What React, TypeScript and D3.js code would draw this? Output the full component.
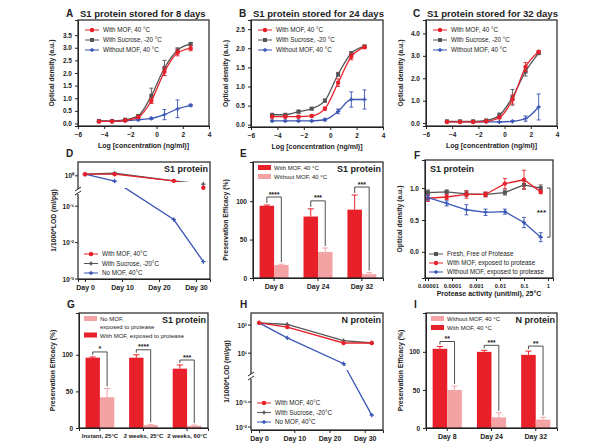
import { useEffect, useRef } from 'react';
import * as d3 from 'd3';

const RED = '#e8202a';
const GRAY = '#555555';
const BLUE = '#3b56b5';
const PINK = '#f4a3a5';
const INK = '#222';
const FONT = '"Liberation Sans", Arial, sans-serif';

// A-C: dose response curves
const concLog = [-4.4, -3.4, -2.4, -1.4, -0.4, 0.6, 1.6, 2.6];
const aMof = [0.08, 0.08, 0.12, 0.25, 0.9, 2.05, 2.8, 2.98];
const aMofErr = [0.03, 0.03, 0.03, 0.05, 0.1, 0.15, 0.12, 0.1];
const aSuc = [0.1, 0.1, 0.15, 0.3, 1.1, 2.2, 2.9, 3.15];
const aSucErr = [0.03, 0.03, 0.04, 0.05, 0.3, 0.3, 0.1, 0.06];
const aNo = [0.08, 0.08, 0.1, 0.15, 0.2, 0.35, 0.58, 0.72];
const aNoErr = [0.02, 0.02, 0.02, 0.04, 0.04, 0.2, 0.35, 0.04];
const bMof = [0.21, 0.21, 0.21, 0.23, 0.42, 1.1, 1.78, 2.03];
const bMofErr = [0.03, 0.03, 0.03, 0.03, 0.04, 0.1, 0.08, 0.04];
const bSuc = [0.26, 0.26, 0.34, 0.42, 0.63, 1.32, 1.87, 2.05];
const bSucErr = [0.02, 0.02, 0.04, 0.03, 0.04, 0.05, 0.04, 0.03];
const bNo = [0.1, 0.1, 0.1, 0.1, 0.13, 0.35, 0.66, 0.66];
const bNoErr = [0.02, 0.02, 0.02, 0.02, 0.03, 0.06, 0.2, 0.25];
const cMof = [0.05, 0.05, 0.05, 0.08, 0.25, 1.05, 2.5, 3.18];
const cMofErr = [0.02, 0.02, 0.02, 0.03, 0.05, 0.2, 0.2, 0.05];
const cSuc = [0.08, 0.08, 0.08, 0.12, 0.35, 1.15, 2.3, 3.12];
const cSucErr = [0.02, 0.02, 0.02, 0.03, 0.1, 0.35, 0.2, 0.05];
const cNo = [0.05, 0.05, 0.05, 0.05, 0.05, 0.08, 0.2, 0.72];
const cNoErr = [0.01, 0.01, 0.01, 0.01, 0.01, 0.03, 0.12, 0.58];

// D, H: detection limits over storage
const storeDays = [0, 8, 24, 32];
const dMof = [1.05, 1.05, 0.86, 0.7];
const dSuc = [1.05, 1.08, 0.86, 0.78];
const dNo = [1.05, 0.85, 0.043, 0.003];
const hMof = [120, 85, 23, 23];
const hSuc = [120, 105, 28, 23];
const hNo = [120, 35, 4.2, 0.03];
const dayTicks = [0, 10, 20, 30];

// E, G, I: preservation efficacy bars
const eCats = ['Day 8', 'Day 24', 'Day 32'];
const eMof = [94, 80, 89];
const eMofErr = [1, 10, 19];
const eNo = [17, 34, 5];
const eNoErr = [1, 5, 2];
const eStars = ['****', '***', '***'];
const gCats = ['Instant, 25°C', '2 weeks, 25°C', '2 weeks, 60°C'];
const gMof = [96, 96, 81];
const gMofErr = [1, 4, 5];
const gNo = [42, 4, 3];
const gNoErr = [12, 1, 1];
const gStars = ['*', '****', '***'];
const iCats = ['Day 8', 'Day 24', 'Day 32'];
const iMof = [104, 100, 96];
const iMofErr = [3, 2, 5];
const iNo = [50, 14, 11];
const iNoErr = [5, 6, 3];
const iStars = ['**', '***', '**'];

// F: protease challenge
const protease = [0.00001, 0.00006, 0.0004, 0.0025, 0.016, 0.1, 0.5];
const fFresh = [0.93, 0.94, 0.91, 0.9, 0.93, 1.05, 1.0];
const fFreshErr = [0.04, 0.03, 0.04, 0.03, 0.04, 0.06, 0.05];
const fMof = [0.84, 0.86, 0.9, 0.9, 1.07, 1.13, 0.94];
const fMofErr = [0.05, 0.04, 0.06, 0.04, 0.08, 0.15, 0.03];
const fNo = [0.85, 0.76, 0.66, 0.62, 0.63, 0.46, 0.23];
const fNoErr = [0.04, 0.04, 0.08, 0.05, 0.04, 0.08, 0.07];

type Sel = d3.Selection<SVGGElement, unknown, null, undefined>;
type Series = { name: string; color: string; shape: string; vals: number[]; errs?: number[] };

function txt(g: Sel, x: number, y: number, s: string, size = 7, anchor = 'start', weight = 'bold', rotate = false) {
  const t = g.append('text').attr('x', x).attr('y', y).attr('font-size', size).attr('font-weight', weight)
    .attr('font-family', FONT).attr('fill', INK).attr('text-anchor', anchor).text(s);
  if (rotate) t.attr('transform', `rotate(-90,${x},${y})`);
  return t;
}

function styleAxis(a: Sel) {
  a.selectAll('text').attr('font-size', 6.5).attr('font-weight', 'bold').attr('font-family', FONT).attr('fill', INK);
  a.selectAll('line,path').attr('stroke', INK).attr('stroke-width', 1);
}

function frame(g: Sel, x0: number, x1: number, y0: number, y1: number) {
  g.append('rect').attr('x', x0).attr('y', y0).attr('width', x1 - x0).attr('height', y1 - y0)
    .attr('fill', 'none').attr('stroke', INK).attr('stroke-width', 1.2);
}

function marker(g: Sel, shape: string, x: number, y: number, color: string) {
  if (shape === 'square') g.append('rect').attr('x', x - 2).attr('y', y - 2).attr('width', 4).attr('height', 4).attr('fill', color);
  else if (shape === 'circle') g.append('circle').attr('cx', x).attr('cy', y).attr('r', 2.2).attr('fill', color);
  else g.append('path').attr('d', d3.symbol(d3.symbolCross, 10)()).attr('transform', `translate(${x},${y})`).attr('fill', color);
}

function errBar(g: Sel, x: number, yA: number, yB: number, color: string, cap = 2) {
  g.append('line').attr('x1', x).attr('x2', x).attr('y1', yA).attr('y2', yB).attr('stroke', color).attr('stroke-width', 0.9);
  [yA, yB].forEach(yy => g.append('line').attr('x1', x - cap).attr('x2', x + cap).attr('y1', yy).attr('y2', yy)
    .attr('stroke', color).attr('stroke-width', 0.9));
}

function lineLegend(g: Sel, x: number, y: number, series: Series[], dy = 10) {
  series.forEach((s, i) => {
    const yy = y + i * dy;
    g.append('line').attr('x1', x).attr('x2', x + 14).attr('y1', yy).attr('y2', yy).attr('stroke', s.color).attr('stroke-width', 1);
    marker(g, s.shape, x + 7, yy, s.color);
    txt(g, x + 18, yy + 2.3, s.name, 6.3, 'start', 'normal');
  });
}

function curvePanel(root: Sel, o: { x0: number; x1: number; y0: number; y1: number; yDomain: [number, number];
  yTicks: number[]; yFmt: string; series: Series[]; letter: string; title: string; lx: number; ylx: number }) {
  const g = root.append('g');
  const x = d3.scaleLinear([-6, 4], [o.x0, o.x1]);
  const y = d3.scaleLinear(o.yDomain, [o.y1, o.y0]);
  frame(g, o.x0, o.x1, o.y0, o.y1);
  styleAxis(g.append('g').attr('transform', `translate(0,${o.y1})`)
    .call(d3.axisBottom(x).tickValues([-6, -4, -2, 0, 2, 4]).tickSize(3).tickFormat(d3.format('d'))));
  styleAxis(g.append('g').attr('transform', `translate(${o.x0},0)`)
    .call(d3.axisLeft(y).tickValues(o.yTicks).tickSize(3).tickFormat(d3.format(o.yFmt))));
  [...o.series].reverse().forEach(s => {
    const pts = concLog.map((c, i) => [x(c), y(s.vals[i])] as [number, number]);
    g.append('path').attr('d', d3.line().curve(d3.curveMonotoneX)(pts)).attr('fill', 'none')
      .attr('stroke', s.color).attr('stroke-width', 1.3);
    pts.forEach((p, i) => {
      const e = s.errs ? s.errs[i] : 0;
      errBar(g, p[0], y(s.vals[i] + e), y(s.vals[i] - e), s.color);
      marker(g, s.shape, p[0], p[1], s.color);
    });
  });
  lineLegend(g, o.x0 + 7, o.y0 + 10, o.series);
  txt(g, o.lx, 17, o.letter, 10);
  txt(g, o.lx + 14, 17, o.title, 9.5);
  txt(g, o.ylx, (o.y0 + o.y1) / 2, 'Optical density (a.u.)', 6.8, 'middle', 'bold', true);
  txt(g, (o.x0 + o.x1) / 2, o.y1 + 22, 'Log [concentration (ng/ml)]', 7, 'middle');
}

function barPanel(root: Sel, o: { x0: number; x1: number; y0: number; y1: number; top: number; cats: string[];
  red: number[]; redErr: number[]; pink: number[]; pinkErr: number[]; stars: string[]; pinkFirst: boolean; lift: number;
  catSize: number; legend: string[]; title: string; letter: string; lx: number; ly: number; ylx: number }) {
  const g = root.append('g');
  const x = d3.scaleBand(o.cats, [o.x0, o.x1]).paddingInner(0.34).paddingOuter(0.15);
  const y = d3.scaleLinear([0, o.top], [o.y1, o.y0]);
  const bw = x.bandwidth() / 2;
  o.cats.forEach((c, i) => {
    const xr = x(c)!;
    const xp = xr + bw;
    g.append('rect').attr('x', xr).attr('y', y(o.red[i])).attr('width', bw).attr('height', o.y1 - y(o.red[i])).attr('fill', RED);
    g.append('rect').attr('x', xp).attr('y', y(o.pink[i])).attr('width', bw).attr('height', o.y1 - y(o.pink[i])).attr('fill', PINK);
    const cr = xr + bw / 2;
    const cp = xp + bw / 2;
    const rt = y(o.red[i] + o.redErr[i]);
    const pt = y(o.pink[i] + o.pinkErr[i]);
    g.append('line').attr('x1', cr).attr('x2', cr).attr('y1', y(o.red[i])).attr('y2', rt).attr('stroke', RED).attr('stroke-width', 1);
    g.append('line').attr('x1', cr - 3).attr('x2', cr + 3).attr('y1', rt).attr('y2', rt).attr('stroke', RED).attr('stroke-width', 1);
    g.append('line').attr('x1', cp).attr('x2', cp).attr('y1', y(o.pink[i])).attr('y2', pt).attr('stroke', PINK).attr('stroke-width', 1);
    g.append('line').attr('x1', cp - 3).attr('x2', cp + 3).attr('y1', pt).attr('y2', pt).attr('stroke', PINK).attr('stroke-width', 1);
    const by = Math.min(rt, pt) - o.lift;
    g.append('path').attr('d', `M${cr},${rt - 2}V${by}H${cp}V${pt - 2}`).attr('fill', 'none').attr('stroke', INK).attr('stroke-width', 0.8);
    txt(g, (cr + cp) / 2, by - 0.5, o.stars[i], 7, 'middle');
  });
  frame(g, o.x0, o.x1, o.y0, o.y1);
  styleAxis(g.append('g').attr('transform', `translate(0,${o.y1})`).call(d3.axisBottom(x).tickSize(3)));
  g.selectAll('.tick text').attr('font-size', o.catSize);
  styleAxis(g.append('g').attr('transform', `translate(${o.x0},0)`).call(d3.axisLeft(y).tickValues([0, 50, 100]).tickSize(3)));
  const cols = o.pinkFirst ? [PINK, RED] : [RED, PINK];
  let yy = o.y0 + 6;
  o.legend.forEach((l, i) => {
    const lines = l.split('\n');
    g.append('rect').attr('x', o.x0 + 5).attr('y', yy - 3).attr('width', 13).attr('height', 5).attr('fill', cols[i]);
    lines.forEach((s, k) => txt(g, o.x0 + 21, yy + 2 + k * 7.5, s, 6, 'start', 'normal'));
    yy += 9 + (lines.length - 1) * 7.5;
  });
  txt(g, o.x1 - 2, o.y0 + 10, o.title, 9, 'end');
  txt(g, o.lx, o.ly, o.letter, 10);
  txt(g, o.ylx, (o.y0 + o.y1) / 2, 'Preservation Efficacy (%)', 6.8, 'middle', 'bold', true);
}

function brokenPanel(root: Sel, id: string, o: { x0: number; x1: number; y0: number; y1: number; xDomain: [number, number];
  upDomain: [number, number]; upBottom: number; loDomain: [number, number]; loTop: number; thresh: number;
  upTicks: [number, string][]; loTicks: [number, string][]; breakY: number; gap: [number, number];
  series: Series[]; title: string; letter: string; lx: number; ly: number; ylx: number; legendY: number }) {
  const g = root.append('g');
  const x = d3.scaleLinear(o.xDomain, [o.x0, o.x1]);
  const yu = d3.scaleLog(o.upDomain, [o.y0, o.upBottom]);
  const yl = d3.scaleLog(o.loDomain, [o.loTop, o.y1]);
  const yv = (v: number) => (v >= o.thresh ? yu(v) : yl(v));
  const clip = g.append('clipPath').attr('id', id);
  clip.append('rect').attr('x', 0).attr('y', 0).attr('width', 600).attr('height', o.gap[0]);
  clip.append('rect').attr('x', 0).attr('y', o.gap[1]).attr('width', 600).attr('height', 447 - o.gap[1]);
  [...o.series].reverse().forEach(s => {
    const pts = storeDays.map((d, i) => [x(d), yv(s.vals[i])] as [number, number]);
    g.append('path').attr('d', d3.line()(pts)).attr('fill', 'none').attr('stroke', s.color)
      .attr('stroke-width', 1.3).attr('clip-path', `url(#${id})`);
    pts.forEach(p => marker(g, s.shape, p[0], p[1], s.color));
  });
  frame(g, o.x0, o.x1, o.y0, o.y1);
  styleAxis(g.append('g').attr('transform', `translate(0,${o.y1})`)
    .call(d3.axisBottom(x).tickValues(dayTicks).tickSize(3).tickFormat(d => `Day ${d}`)));
  g.selectAll('.tick text').attr('font-size', 7);
  const ticks = [...o.upTicks.map(t => [yu(t[0]), t[1]]), ...o.loTicks.map(t => [yl(t[0]), t[1]])] as [number, string][];
  ticks.forEach(([py, s]) => {
    g.append('line').attr('x1', o.x0 - 3).attr('x2', o.x0).attr('y1', py).attr('y2', py).attr('stroke', INK);
    txt(g, o.x0 - 4, py + 2.5, s, 6.5, 'end', 'bold');
  });
  g.append('rect').attr('x', o.x0 - 2).attr('y', o.breakY - 2).attr('width', 4).attr('height', 5).attr('fill', '#fff');
  [o.breakY - 2, o.breakY + 2].forEach(by =>
    g.append('line').attr('x1', o.x0 - 3).attr('x2', o.x0 + 3).attr('y1', by + 2).attr('y2', by - 2).attr('stroke', INK).attr('stroke-width', 1));
  lineLegend(g, o.x0 + 6, o.legendY, o.series, 9.5);
  txt(g, o.x1 - 2, o.y0 + 10, o.title, 9, 'end');
  txt(g, o.lx, o.ly, o.letter, 10);
  txt(g, o.ylx, (o.y0 + o.y1) / 2, '1/1000*LOD (ml/pg)', 6.8, 'middle', 'bold', true);
}

function proteasePanel(root: Sel) {
  const g = root.append('g');
  const x0 = 425, x1 = 553, y0 = 160, y1 = 278;
  const x = d3.scaleLog([10 ** -5.125, 10 ** 0.21], [x0, x1]);
  const y = d3.scaleLinear([-0.41, 1.44], [y1, y0]);
  const series: Series[] = [
    { name: 'Fresh, Free of Protease', color: GRAY, shape: 'square', vals: fFresh, errs: fFreshErr },
    { name: 'With MOF, exposed to protease', color: RED, shape: 'circle', vals: fMof, errs: fMofErr },
    { name: 'Without MOF, exposed to protease', color: BLUE, shape: 'cross', vals: fNo, errs: fNoErr },
  ];
  series.forEach(s => {
    const pts = protease.map((c, i) => [x(c), y(s.vals[i])] as [number, number]);
    g.append('path').attr('d', d3.line()(pts)).attr('fill', 'none').attr('stroke', s.color).attr('stroke-width', 1.3);
    pts.forEach((p, i) => {
      errBar(g, p[0], y(s.vals[i] + s.errs![i]), y(s.vals[i] - s.errs![i]), s.color);
      marker(g, s.shape, p[0], p[1], s.color);
    });
  });
  frame(g, x0, x1, y0, y1);
  styleAxis(g.append('g').attr('transform', `translate(0,${y1})`)
    .call(d3.axisBottom(x).tickValues([0.00001, 0.0001, 0.001, 0.01, 0.1, 1]).tickSize(3).tickFormat(d => String(+d))));
  g.selectAll('.tick text').attr('font-size', 5.8);
  styleAxis(g.append('g').attr('transform', `translate(${x0},0)`)
    .call(d3.axisLeft(y).tickValues([0, 0.5, 1]).tickSize(3).tickFormat(d3.format('.1f'))));
  g.append('path').attr('d', `M${x1 - 6},${y(1.0)}H${x1 - 3}V${y(0.23)}H${x1 - 6}`).attr('fill', 'none').attr('stroke', INK).attr('stroke-width', 0.8);
  txt(g, x1 - 7, y(0.62) + 3, '***', 8, 'end');
  lineLegend(g, x0 + 4, 254, series, 9);
  txt(g, x0 + 5, 172, 'S1 protein', 9);
  txt(g, 414, 159, 'F', 10);
  txt(g, 402, (y0 + y1) / 2, 'Optical density (a.u.)', 6.8, 'middle', 'bold', true);
  txt(g, (x0 + x1) / 2, 296, 'Protease activity (unit/ml), 25°C', 7, 'middle');
}

export default function App() {
  const ref = useRef<SVGSVGElement>(null);

  useEffect(() => {
    if (!ref.current) return;
    const svg = d3.select(ref.current);
    svg.selectAll('*').remove();
    const root = svg.append('g') as unknown as Sel;
    const mk = (mof: number[], me: number[], suc: number[], se: number[], no: number[], ne: number[]): Series[] => [
      { name: 'With MOF, 40 °C', color: RED, shape: 'circle', vals: mof, errs: me },
      { name: 'With Sucrose, -20 °C', color: GRAY, shape: 'square', vals: suc, errs: se },
      { name: 'Without MOF, 40 °C', color: BLUE, shape: 'cross', vals: no, errs: ne },
    ];
    curvePanel(root, { x0: 78, x1: 209, y0: 20, y1: 126, yDomain: [-0.1, 4.1], yTicks: d3.range(0, 3.51, 0.5), yFmt: '.1f',
      series: mk(aMof, aMofErr, aSuc, aSucErr, aNo, aNoErr), letter: 'A', title: 'S1 protein stored for 8 days', lx: 66, ylx: 54 });
    curvePanel(root, { x0: 251, x1: 383, y0: 20, y1: 127, yDomain: [-0.06, 2.74], yTicks: d3.range(0, 2.51, 0.5), yFmt: '.1f',
      series: mk(bMof, bMofErr, bSuc, bSucErr, bNo, bNoErr), letter: 'B', title: 'S1 protein stored for 24 days', lx: 239, ylx: 228 });
    curvePanel(root, { x0: 426, x1: 557, y0: 20, y1: 126, yDomain: [-0.13, 4.6], yTicks: [0, 1, 2, 3, 4], yFmt: '.1f',
      series: mk(cMof, cMofErr, cSuc, cSucErr, cNo, cNoErr), letter: 'C', title: 'S1 protein stored for 32 days', lx: 413, ylx: 403 });

    const dSeries = (a: number[], b: number[], c: number[]): Series[] => [
      { name: 'With MOF, 40°C', color: RED, shape: 'circle', vals: a },
      { name: 'With Sucrose, -20°C', color: GRAY, shape: 'cross', vals: b },
      { name: 'No MOF, 40°C', color: BLUE, shape: 'cross', vals: c },
    ];
    brokenPanel(root, 'clipD', { x0: 78, x1: 210, y0: 162, y1: 279, xDomain: [-1.9, 33.8],
      upDomain: [10 ** 0.18, 10 ** -0.25], upBottom: 195, loDomain: [10 ** -0.83, 10 ** -3], loTop: 200, thresh: 0.5,
      upTicks: [[1, '10⁰']], loTicks: [[0.1, '10⁻¹'], [0.01, '10⁻²'], [0.001, '10⁻³']], breakY: 191, gap: [182, 188],
      series: dSeries(dMof, dSuc, dNo), title: 'S1 protein', letter: 'D', lx: 66, ly: 157, ylx: 56, legendY: 254 });
    brokenPanel(root, 'clipH', { x0: 251, x1: 383, y0: 313, y1: 430, xDomain: [-2.3, 35.2],
      upDomain: [10 ** 2.43, 10 ** 0.4], upBottom: 370, loDomain: [10 ** -0.12, 10 ** -2.12], loTop: 380, thresh: 2,
      upTicks: [[100, '10²'], [10, '10¹']], loTicks: [[0.1, '10⁻¹'], [0.01, '10⁻²']], breakY: 376, gap: [366, 370],
      series: dSeries(hMof, hSuc, hNo), title: 'N protein', letter: 'H', lx: 240, ly: 308, ylx: 229, legendY: 403 });

    barPanel(root, { x0: 253, x1: 383, y0: 162, y1: 278, top: 151, cats: eCats, red: eMof, redErr: eMofErr, pink: eNo, pinkErr: eNoErr,
      stars: eStars, pinkFirst: false, lift: 8, catSize: 7, legend: ['With MOF, 40 °C', 'Without MOF, 40 °C'],
      title: 'S1 protein', letter: 'E', lx: 240, ly: 157, ylx: 228 });
    barPanel(root, { x0: 79, x1: 208, y0: 313, y1: 428, top: 157, cats: gCats, red: gMof, redErr: gMofErr, pink: gNo, pinkErr: gNoErr,
      stars: gStars, pinkFirst: true, lift: 5, catSize: 6, legend: ['No MOF,\nexposed to protease', 'With MOF, exposed to protease'],
      title: 'S1 protein', letter: 'G', lx: 67, ly: 308, ylx: 55 });
    barPanel(root, { x0: 426, x1: 557, y0: 313, y1: 428, top: 151, cats: iCats, red: iMof, redErr: iMofErr, pink: iNo, pinkErr: iNoErr,
      stars: iStars, pinkFirst: true, lift: 5, catSize: 7, legend: ['Without MOF, 40 °C', 'With MOF, 40 °C'],
      title: 'N protein', letter: 'I', lx: 414, ly: 308, ylx: 403 });
    proteasePanel(root);
  }, []);

  return (
    <div style={{ position: 'absolute', left: 0, top: 0 }}>
      <svg ref={ref} width={600} height={447} style={{ display: 'block', background: '#fff' }} />
    </div>
  );
}
